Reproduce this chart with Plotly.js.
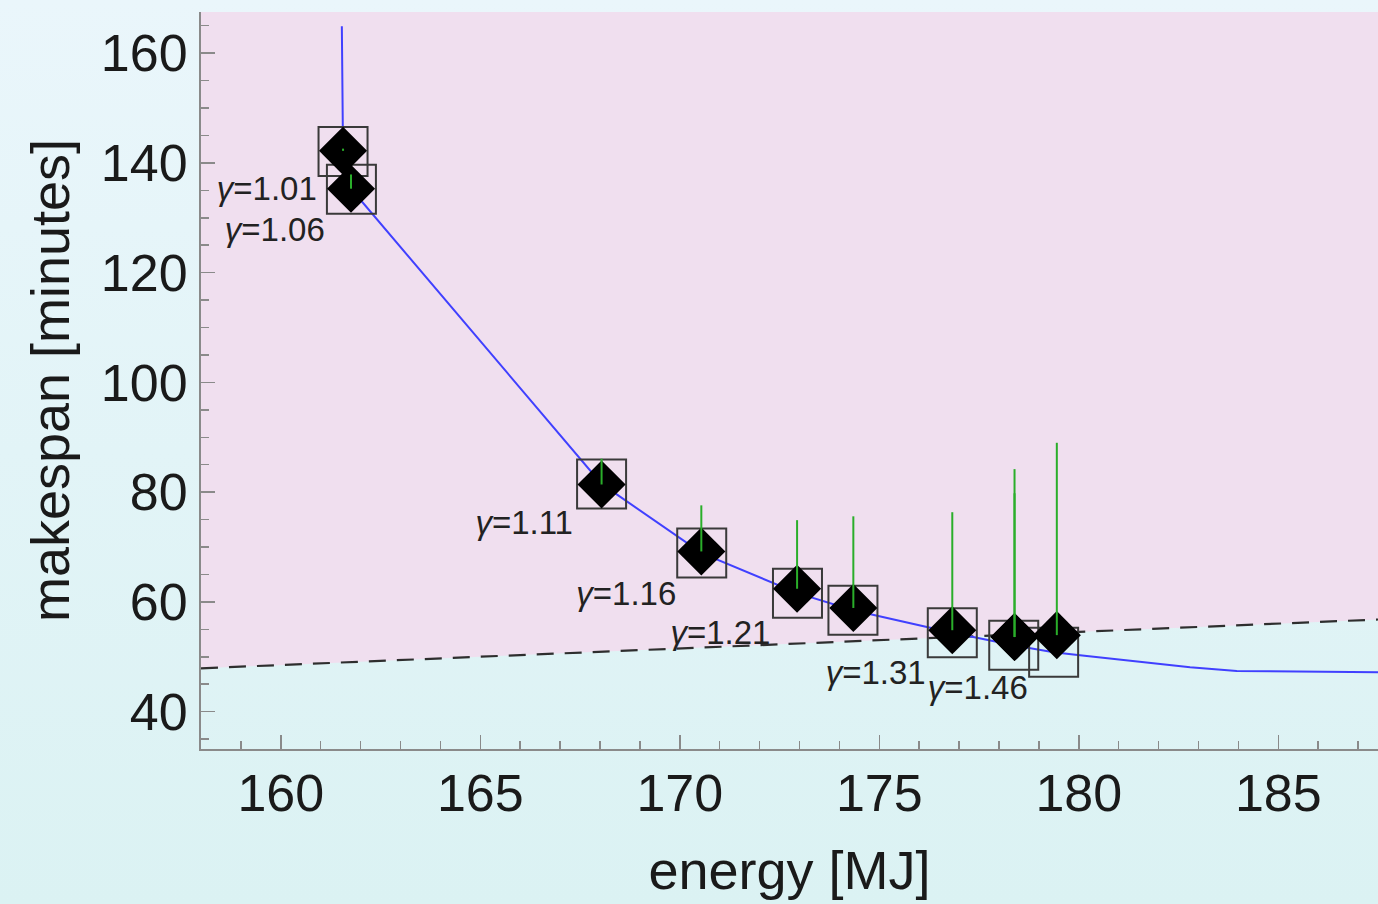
<!DOCTYPE html>
<html>
<head>
<meta charset="utf-8">
<script src="https://cdn.plot.ly/plotly-3.0.1.min.js"></script>
<style>
  html, body { margin:0; padding:0; }
  body { width:1378px; height:904px; background: linear-gradient(to bottom, #eaf6fb 0%, #e2f4f7 50%, #dbf2f3 100%); }
  #chart { width:1378px; height:904px; }
</style>
</head>
<body>
<div id="chart"></div>
<script>
// Measured results (diamonds) for gamma = 1.01 ... 1.46
const measEnergy   = [161.56, 161.76, 168.04, 170.54, 172.94, 174.35, 176.83, 178.39, 178.39, 179.45];
const measMakespan = [142.2, 135.3, 81.4, 69.2, 62.4, 58.9, 54.85, 53.6, 53.6, 53.95];
const measErrUp    = [0.4, 2.6, 4.7, 8.4, 12.5, 16.7, 21.5, 30.6, 26.2, 35.05];

// Predicted results (open squares)
const predEnergy   = [161.56, 161.77, 168.04, 170.55, 172.95, 174.34, 176.83, 178.37, 179.37];
const predMakespan = [142.1, 135.2, 81.5, 68.9, 61.6, 58.5, 54.4, 52.1, 50.85];

// Pareto front curve (blue)
const frontEnergy   = [161.53, 161.56, 161.77, 168.04, 170.55, 172.95, 174.34, 176.83, 178.37, 179.37, 180.03, 181.53, 182.79, 183.96, 187.5];
const frontMakespan = [164.9, 142.1, 135.2, 81.5, 68.9, 61.6, 58.5, 54.4, 52.1, 50.85, 50.3, 49.04, 48.1, 47.4, 47.2];

// Dashed boundary line
const boundEnergy   = [158, 187.5];
const boundMakespan = [47.9, 56.8];

// Gamma labels
const labelText     = ['<i>γ</i>=1.01', '<i>γ</i>=1.06', '<i>γ</i>=1.11', '<i>γ</i>=1.16', '<i>γ</i>=1.21', '<i>γ</i>=1.31', '<i>γ</i>=1.46'];
const labelEnergy   = [159.65, 159.85, 166.10, 168.66, 171.02, 174.91, 177.47];
const labelMakespan = [134.7, 127.2, 73.8, 61.0, 53.8, 46.5, 43.9];

const xRange = [158, 187.5];
const yRange = [33.2, 167.5];

const FONT = 'Liberation Sans, Arial, Helvetica, sans-serif';

const traces = [
  { x: boundEnergy, y: [yRange[1], yRange[1]], mode: 'lines', line: {width: 0}, hoverinfo: 'skip', showlegend: false },
  { x: boundEnergy, y: boundMakespan, mode: 'lines', fill: 'tonexty', fillcolor: '#f0dfef',
    line: {color: '#2e2e2e', width: 2.2, dash: '17px,11px'}, showlegend: false },
  { x: frontEnergy, y: frontMakespan, mode: 'lines', line: {color: '#4040ff', width: 2, shape: 'linear'}, showlegend: false },
  { x: predEnergy, y: predMakespan, mode: 'markers',
    marker: {symbol: 'square-open', size: 49, color: '#3a3a3a', line: {width: 2, color: '#3a3a3a'}}, showlegend: false },
  { x: measEnergy, y: measMakespan, mode: 'markers',
    marker: {symbol: 'diamond', size: 37, color: '#000000'}, showlegend: false },
  { x: measEnergy, y: measMakespan, mode: 'markers',
    marker: {size: 1, color: 'rgba(0,0,0,0)'},
    error_y: {type: 'data', symmetric: false, array: measErrUp, arrayminus: measErrUp.map(() => 0),
              color: '#2aae2a', thickness: 2, width: 0}, showlegend: false },
  { x: labelEnergy, y: labelMakespan, mode: 'text', text: labelText, textposition: 'middle center',
    textfont: {family: FONT, size: 33, color: '#222222'}, showlegend: false, hoverinfo: 'skip' }
];

const axisCommon = {
  showgrid: false, zeroline: false, showline: true, linecolor: '#8a8a8a', linewidth: 2,
  ticks: 'inside', ticklen: 14, tickwidth: 1.5, tickcolor: '#8a8a8a',
  tickfont: {family: FONT, size: 52, color: '#1a1a1a'}
};

const layout = {
  width: 1378, height: 904,
  margin: {l: 201, r: 0, t: 12, b: 155},
  paper_bgcolor: 'rgba(0,0,0,0)',
  plot_bgcolor: 'rgba(0,0,0,0)',
  showlegend: false,
  xaxis: Object.assign({}, axisCommon, {
    range: xRange, tick0: 160, dtick: 5, ticklabelstandoff: -2,
    minor: {dtick: 1, ticks: 'inside', ticklen: 8, tickcolor: '#8a8a8a', tickwidth: 1.5, showgrid: false},
    title: {text: 'energy [MJ]', font: {family: FONT, size: 54, color: '#1a1a1a'}, standoff: 30}
  }),
  yaxis: Object.assign({}, axisCommon, {
    range: yRange, tick0: 40, dtick: 20, ticklabelstandoff: 1,
    minor: {dtick: 5, ticks: 'inside', ticklen: 8, tickcolor: '#8a8a8a', tickwidth: 1.5, showgrid: false},
    title: {text: 'makespan [minutes]', font: {family: FONT, size: 54, color: '#1a1a1a'}, standoff: 14}
  })
};

Plotly.newPlot('chart', traces, layout, {displayModeBar: false, staticPlot: true});
</script>
</body>
</html>
